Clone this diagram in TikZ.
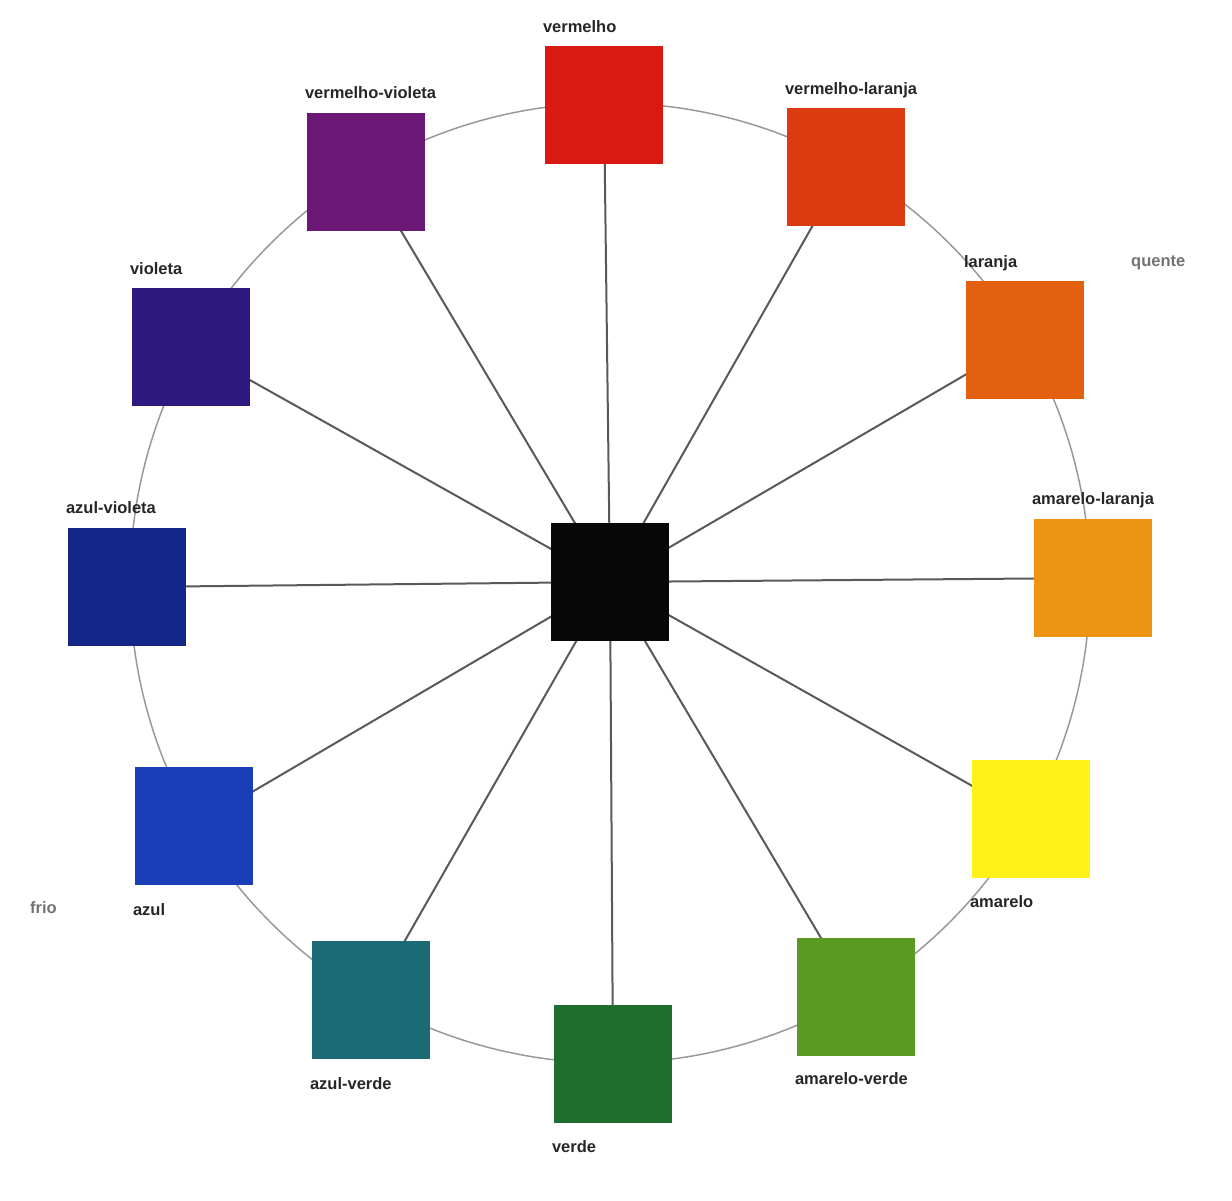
\documentclass[tikz,border=0pt]{standalone}
\usepackage{xcolor}
\usepackage{fontspec}
\setmainfont{Liberation Sans}
\usepackage{tikz}
\usetikzlibrary{positioning, calc}
\pgfdeclarelayer{background}
\pgfdeclarelayer{foreground}
\pgfsetlayers{background,main,foreground}

\definecolor{corVermelho}{HTML}{D81A12}
\definecolor{corVermelhoLaranja}{HTML}{DC3A10}
\definecolor{corLaranja}{HTML}{E2600F}
\definecolor{corAmareloLaranja}{HTML}{EE9414}
\definecolor{corAmarelo}{HTML}{FFF21A}
\definecolor{corAmareloVerde}{HTML}{5A9A22}
\definecolor{corVerde}{HTML}{1F6E2E}
\definecolor{corAzulVerde}{HTML}{1B6B74}
\definecolor{corAzul}{HTML}{1A3DB8}
\definecolor{corAzulVioleta}{HTML}{14268A}
\definecolor{corVioleta}{HTML}{2E1A7E}
\definecolor{corVermelhoVioleta}{HTML}{6B1776}

\tikzset{
  quadrado/.style={draw=none, minimum size=118pt, inner sep=0pt},
  rotulo/.style={font=\bfseries\fontsize{16.5}{18}\selectfont, text=black!85, inner sep=0pt, anchor=base west},
  extremo/.style={font=\bfseries\fontsize{16.5}{18}\selectfont, text=black!55, inner sep=0pt, anchor=base west},
  raio/.style={draw=black!65, line width=2pt},
  roda/.style={draw=black!40, line width=1.5pt}
}

\begin{document}
\begin{tikzpicture}[x=1pt, y=-1pt]
  \useasboundingbox (0,0) rectangle (1232,1200);

  % centro preto
  \node[quadrado, fill=black!97] (centro) at (610,582) {};

  % as doze cores
  \foreach \nome/\x/\y/\cor/\texto/\canto/\dy in {
      verm/604/105/corVermelho/vermelho/north west/13,
      vermlar/846/167/corVermelhoLaranja/vermelho-laranja/north west/13,
      lar/1025/340/corLaranja/laranja/north west/13,
      amalar/1093/578/corAmareloLaranja/amarelo-laranja/north west/14,
      ama/1031/819/corAmarelo/amarelo/south west/-29,
      amaver/856/997/corAmareloVerde/amarelo-verde/south west/-28,
      ver/613/1064/corVerde/verde/south west/-29,
      azver/371/1000/corAzulVerde/azul-verde/south west/-30,
      az/194/826/corAzul/azul/south west/-30,
      azviol/127/587/corAzulVioleta/azul-violeta/north west/14,
      viol/191/347/corVioleta/violeta/north west/13,
      vermviol/366/172/corVermelhoVioleta/vermelho-violeta/north west/14}
  {
    \node[quadrado, fill=\cor] (\nome) at (\x,\y) {};
    \node[rotulo] (r-\nome) at ([xshift=-2pt, yshift=\dy pt]\nome.\canto) {\texto};
  }

  \node[extremo] (quente) at (1131,266) {quente};
  \node[extremo] (frio) at (30,913) {frio};

  \begin{pgfonlayer}{background}
    \draw[roda] (610,583) circle (480pt);
    \foreach \nome in {verm, vermlar, lar, amalar, ama, amaver, ver, azver, az, azviol, viol, vermviol}
      \draw[raio] (centro.center) -- (\nome.center);
  \end{pgfonlayer}
\end{tikzpicture}
\end{document}
